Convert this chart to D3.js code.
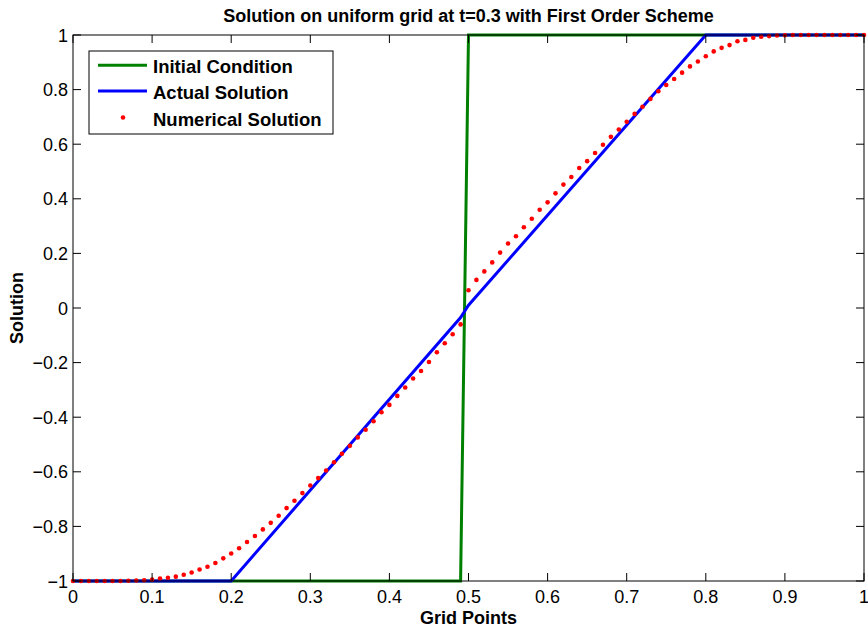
<!DOCTYPE html>
<html><head><meta charset="utf-8">
<script src="https://cdn.jsdelivr.net/npm/d3@7"></script>
<style>body{margin:0;background:#fff}svg text{font-family:"Liberation Sans",Arial,sans-serif}</style>
</head><body><svg id="c" width="868" height="632"></svg>
<script>
const gridPoints = d3.range(0, 101).map(i => i / 100);
const numerical = [
 -1,-1,-1,-1,-1,-1,-1,-0.999,-0.998,-0.997,
 -0.995,-0.991,-0.988,-0.984,-0.977,-0.969,-0.958,-0.948,-0.934,-0.917,
 -0.899,-0.880,-0.857,-0.835,-0.811,-0.787,-0.761,-0.733,-0.706,-0.678,
 -0.650,-0.623,-0.595,-0.565,-0.534,-0.505,-0.474,-0.446,-0.415,-0.382,
 -0.355,-0.322,-0.291,-0.258,-0.231,-0.198,-0.162,-0.129,-0.096,-0.060,
 0.065,0.103,0.134,0.167,0.203,0.236,0.263,0.296,0.327,0.360,
 0.387,0.420,0.452,0.480,0.513,0.538,0.568,0.598,0.627,0.654,
 0.682,0.711,0.737,0.766,0.794,0.817,0.839,0.862,0.885,0.903,
 0.922,0.940,0.953,0.963,0.977,0.982,0.990,0.994,0.996,0.998,
 0.999,1,1,1,1,1,1,1,1,1,1
];
const initX = [0, 0.49, 0.5, 1];
const initY = [-1, -1, 1, 1];
const actualX = [0, 0.2, 0.49, 0.5, 0.8, 1];
const actualY = [-1, -1, -0.035, 0.01, 1, 1];
const xTicks = [0,0.1,0.2,0.3,0.4,0.5,0.6,0.7,0.8,0.9,1];
const yTicks = [-1,-0.8,-0.6,-0.4,-0.2,0,0.2,0.4,0.6,0.8,1];
const title = "Solution on uniform grid at t=0.3 with First Order Scheme";
const xLabel = "Grid Points", yLabel = "Solution";
const legendNames = ["Initial Condition", "Actual Solution", "Numerical Solution"];

const L = 73, R = 864, T = 35, B = 581;
const svg = d3.select("#c");
const x = d3.scaleLinear().domain([0, 1]).range([L, R]);
const y = d3.scaleLinear().domain([-1, 1]).range([B, T]);
const fmt = v => (v < 0 ? "\u2212" : "") + String(Math.abs(Math.round(v * 10) / 10));

const clip = svg.append("defs").append("clipPath").attr("id","pc")
  .append("rect").attr("x",L-3).attr("y",T-3).attr("width",R-L+6).attr("height",B-T+6);

const line = d3.line().x(d => x(d[0])).y(d => y(d[1]));
const g = svg.append("g").attr("clip-path","url(#pc)");
g.append("path").datum(initX.map((v,i)=>[v,initY[i]])).attr("d",line)
  .attr("fill","none").attr("stroke","#008000").attr("stroke-width",3);
g.append("path").datum(actualX.map((v,i)=>[v,actualY[i]])).attr("d",line)
  .attr("fill","none").attr("stroke","#0000ff").attr("stroke-width",3);
g.selectAll("circle.n").data(gridPoints.map((v,i)=>[v,numerical[i]])).join("circle")
  .attr("cx",d=>x(d[0])).attr("cy",d=>y(d[1])).attr("r",2.3).attr("fill","#ff0000");

// axes box
const ax = svg.append("g");
ax.append("rect").attr("x",L).attr("y",T).attr("width",R-L).attr("height",B-T)
  .attr("fill","none").attr("stroke","#000").attr("stroke-width",1);
const tl = 8;
xTicks.forEach(v => {
  ax.append("line").attr("x1",x(v)).attr("x2",x(v)).attr("y1",B).attr("y2",B-tl).attr("stroke","#000");
  ax.append("line").attr("x1",x(v)).attr("x2",x(v)).attr("y1",T).attr("y2",T+tl).attr("stroke","#000");
  ax.append("text").attr("x",x(v)).attr("y",B+22).attr("text-anchor","middle")
    .attr("font-size",18).text(fmt(v));
});
yTicks.forEach(v => {
  ax.append("line").attr("x1",L).attr("x2",L+tl).attr("y1",y(v)).attr("y2",y(v)).attr("stroke","#000");
  ax.append("line").attr("x1",R).attr("x2",R-tl).attr("y1",y(v)).attr("y2",y(v)).attr("stroke","#000");
  ax.append("text").attr("x",L-5).attr("y",y(v)+6.5).attr("text-anchor","end")
    .attr("font-size",18).text(fmt(v));
});
svg.append("text").attr("x",(L+R)/2).attr("y",22).attr("text-anchor","middle")
  .attr("font-size",18).attr("font-weight","bold").text(title);
svg.append("text").attr("x",(L+R)/2).attr("y",624).attr("text-anchor","middle")
  .attr("font-size",18).attr("font-weight","bold").text(xLabel);
svg.append("text").attr("transform","translate(23,"+((T+B)/2)+") rotate(-90)").attr("text-anchor","middle")
  .attr("font-size",18).attr("font-weight","bold").text(yLabel);

// legend
const lg = svg.append("g");
lg.append("rect").attr("x",89).attr("y",51).attr("width",244).attr("height",83)
  .attr("fill","#fff").attr("stroke","#000").attr("stroke-width",1);
const rows = [65.3, 91, 117.5];
const colors = ["#008000","#0000ff","#ff0000"];
legendNames.forEach((n,i) => {
  if (i < 2) lg.append("line").attr("x1",98).attr("x2",147).attr("y1",rows[i]).attr("y2",rows[i])
    .attr("stroke",colors[i]).attr("stroke-width",3);
  else lg.append("circle").attr("cx",123).attr("cy",rows[i]).attr("r",2.3).attr("fill",colors[i]);
  lg.append("text").attr("x",153).attr("y",rows[i]+8).attr("font-size",18.5)
    .attr("font-weight","bold").text(n);
});
</script></body></html>
